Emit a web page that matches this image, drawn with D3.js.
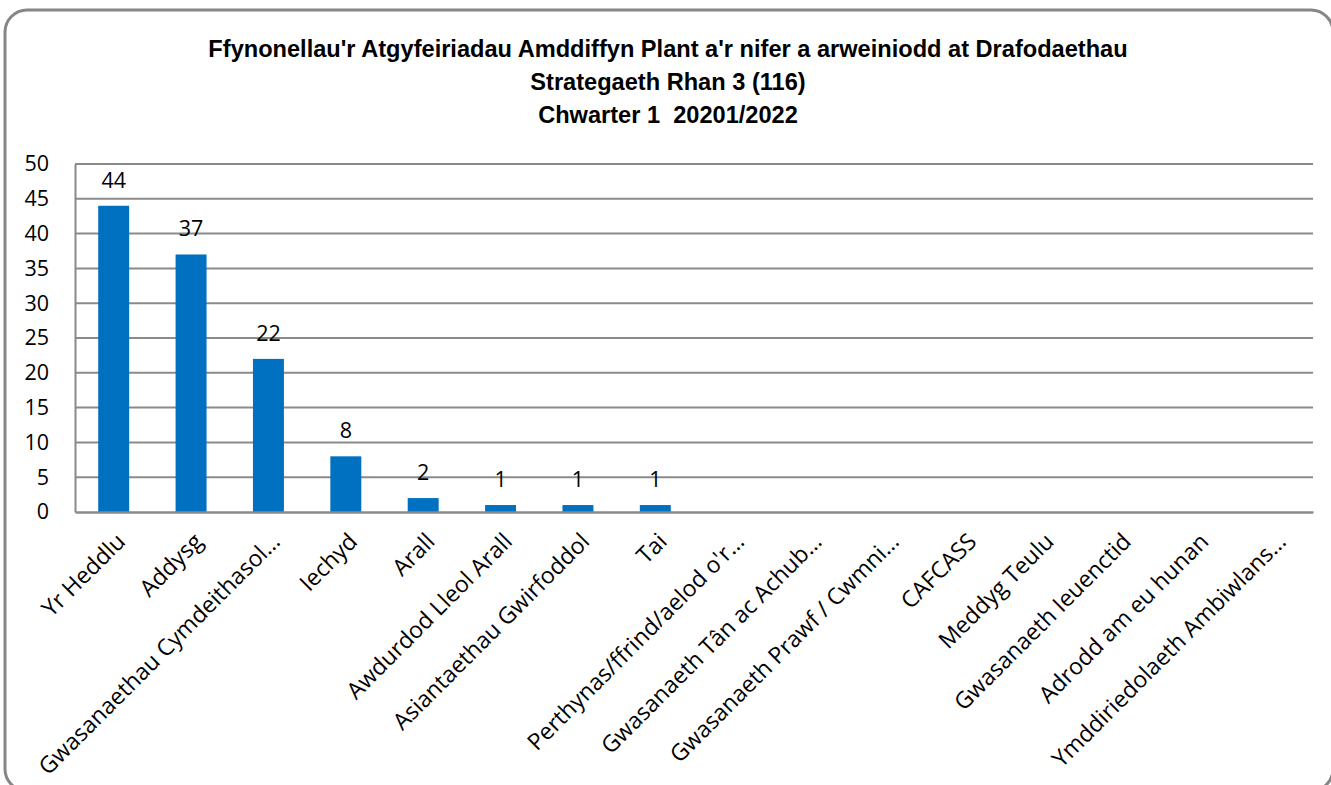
<!DOCTYPE html>
<html>
<head>
<meta charset="utf-8">
<script src="https://cdn.jsdelivr.net/npm/d3@7"></script>
<style>
  body { margin: 0; background: #fff; }
  svg { display: block; }
</style>
</head>
<body>
<div id="chart"></div>
<script>
// Child protection referral sources, Q1 — single bar series

const titleLines = [
  "Ffynonellau'r Atgyfeiriadau Amddiffyn Plant a'r nifer a arweiniodd at Drafodaethau",
  "Strategaeth Rhan 3 (116)",
  "Chwarter 1  20201/2022"
]

const categories = [
  "Yr Heddlu", "Addysg", "Gwasanaethau Cymdeithasol…", "Iechyd", "Arall",
  "Awdurdod Lleol Arall", "Asiantaethau Gwirfoddol", "Tai",
  "Perthynas/ffrind/aelod o'r…", "Gwasanaeth Tân ac Achub…",
  "Gwasanaeth Prawf / Cwmni…", "CAFCASS", "Meddyg Teulu",
  "Gwasanaeth Ieuenctid", "Adrodd am eu hunan", "Ymddiriedolaeth Ambiwlans…"
]
const values = [44, 37, 22, 8, 2, 1, 1, 1, 0, 0, 0, 0, 0, 0, 0, 0]
const yTicks = [0, 5, 10, 15, 20, 25, 30, 35, 40, 45, 50]

const W = 1331, H = 785
const ML = 75, MR = 18, MT = 164, MB = 273 // plot area margins

const svg = d3.select('#chart').append('svg').attr('width', W).attr('height', H)

// rounded frame round the whole chart
svg.append('rect')
  .attr('x', 5).attr('y', 10).attr('width', W - 3).attr('height', H - 4)
  .attr('rx', 22).attr('fill', 'none').attr('stroke', '#868686').attr('stroke-width', 3)

const x = d3.scaleBand(categories, [ML, W - MR]).paddingInner(0.6).paddingOuter(0.3)
const y = d3.scaleLinear([0, 50], [H - MB, MT])

const bodyFont = "'Open Sans', 'Noto Sans', sans-serif"

// title
svg.append('text')
  .attr('x', 668).attr('y', 57)
  .attr('text-anchor', 'middle')
  .style('white-space', 'pre')
  .style('font-family', "'Liberation Sans', Arial, sans-serif")
  .style('font-weight', 'bold').style('font-size', '23.6px').attr('fill', '#000')
  .selectAll('tspan').data(titleLines).join('tspan')
  .attr('x', 668).attr('dy', (d, i) => i ? 33 : 0).text(d => d)

// gridlines
svg.append('g').selectAll('line').data(yTicks.slice(1)).join('line')
  .attr('x1', ML).attr('x2', W - MR)
  .attr('y1', d => y(d)).attr('y2', d => y(d))
  .attr('stroke', '#8a8a8a').attr('stroke-width', 2)

// y axis
const yAxis = svg.append('g').attr('transform', `translate(${ML},0)`)
  .call(d3.axisLeft(y).tickValues(yTicks).tickSize(0).tickPadding(26))
yAxis.select('.domain').attr('stroke', '#8a8a8a').attr('stroke-width', 2)
yAxis.selectAll('text').style('font-family', bodyFont).style('font-size', '21.5px').attr('fill', '#000')

// bars
svg.append('g').selectAll('rect').data(values).join('rect')
  .attr('x', (d, i) => x(categories[i]))
  .attr('width', x.bandwidth())
  .attr('y', d => y(d))
  .attr('height', d => y(0) - y(d))
  .attr('fill', '#0070C0')

// x axis baseline + rotated labels
const xAxis = svg.append('g').attr('transform', `translate(0,${H - MB})`)
  .call(d3.axisBottom(x).tickSize(0).tickPadding(0))
xAxis.select('.domain').attr('stroke', '#8a8a8a').attr('stroke-width', 2.5)
xAxis.selectAll('text')
  .style('font-family', bodyFont).style('font-size', '23px').attr('fill', '#000')
  .attr('text-anchor', 'end')
  .attr('y', 0).attr('dy', 0)
  .attr('transform', 'translate(13,31) rotate(-45)')

// data labels (only non-zero bars)
svg.append('g').selectAll('text').data(values.map((v, i) => [v, i]).filter(d => d[0] > 0)).join('text')
  .attr('x', d => x(categories[d[1]]) + x.bandwidth() / 2)
  .attr('y', d => y(d[0]) - 18)
  .attr('text-anchor', 'middle')
  .style('font-family', bodyFont).style('font-size', '21.5px').attr('fill', '#000')
  .text(d => d[0])
</script>
</body>
</html>
